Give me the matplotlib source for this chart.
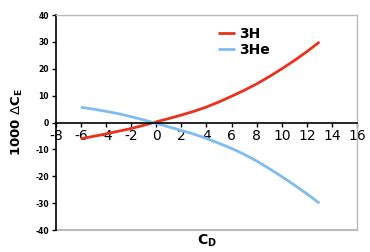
import matplotlib
matplotlib.use("Agg")
import matplotlib.pyplot as plt

cd = [-6, -5, -4, -3, -2, -1, 0, 1, 2, 3, 4, 5, 6, 7, 8, 9, 10, 11, 12, 13]
h3 = [-6.0, -5.1, -4.2, -3.2, -2.2, -1.0, 0.3, 1.5, 2.8, 4.2, 5.8, 7.7, 9.8,
      12.0, 14.4, 17.1, 20.0, 23.1, 26.4, 30.0]
he3 = [5.7, 5.0, 4.2, 3.3, 2.2, 1.0, -0.3, -1.6, -2.9, -4.3, -5.9, -7.7, -9.6,
       -11.8, -14.3, -17.1, -20.1, -23.2, -26.5, -30.0]
xticks = list(range(-8, 17, 2))
yticks = list(range(-40, 41, 10))

plt.rcParams['font.family'] = ['DejaVu Sans']
plt.rcParams['axes.unicode_minus'] = False
fig = plt.figure(figsize=(3.7, 2.52), dpi=100)
ax = fig.add_axes([0.151, 0.087, 0.814, 0.853])

ax.plot(cd, h3, color='#E8321C', lw=2.0, label='3H', solid_capstyle='butt')
ax.plot(cd, he3, color='#80BCF2', lw=2.0, label='3He', solid_capstyle='butt')

ax.set_xlim(-8, 16)
ax.set_ylim(-40, 40)
ax.set_xticks(xticks)
ax.set_yticks(yticks)
ax.set_xticklabels([str(t) for t in xticks], fontsize=5.5, fontweight='bold')
ax.set_yticklabels([str(t) for t in yticks], fontsize=5.5, fontweight='bold')

ax.spines['bottom'].set_position(('data', 0))
ax.spines['bottom'].set_color('black')
ax.spines['bottom'].set_linewidth(1.2)
ax.spines['left'].set_color('black')
ax.spines['left'].set_linewidth(1.2)
for s in ['top', 'right']:
    ax.spines[s].set_color('#BBBBBB')
    ax.spines[s].set_linewidth(1.0)
ax.axhline(-40, color='#BBBBBB', lw=1.5, clip_on=False, zorder=0)

ax.tick_params(axis='x', direction='out', length=3, width=1, pad=1.5, colors='black')
ax.tick_params(axis='y', direction='out', length=3, width=1, pad=2, colors='black')

fig.text(0.047, 0.515, r'1000 $\Delta$C$_\mathregular{E}$', rotation=90, fontsize=9.5,
         fontweight='bold', ha='center', va='center')
fig.text(0.56, 0.045, r'C$_\mathregular{D}$', fontsize=10, fontweight='bold',
         ha='center', va='center')

leg = ax.legend(loc='upper left', bbox_to_anchor=(0.52, 0.97), frameon=False,
                prop={'weight': 'bold', 'size': 10}, handlelength=1.2,
                handletextpad=0.3, labelspacing=0.1, borderaxespad=0)

fig.savefig('out.png', dpi=100)
